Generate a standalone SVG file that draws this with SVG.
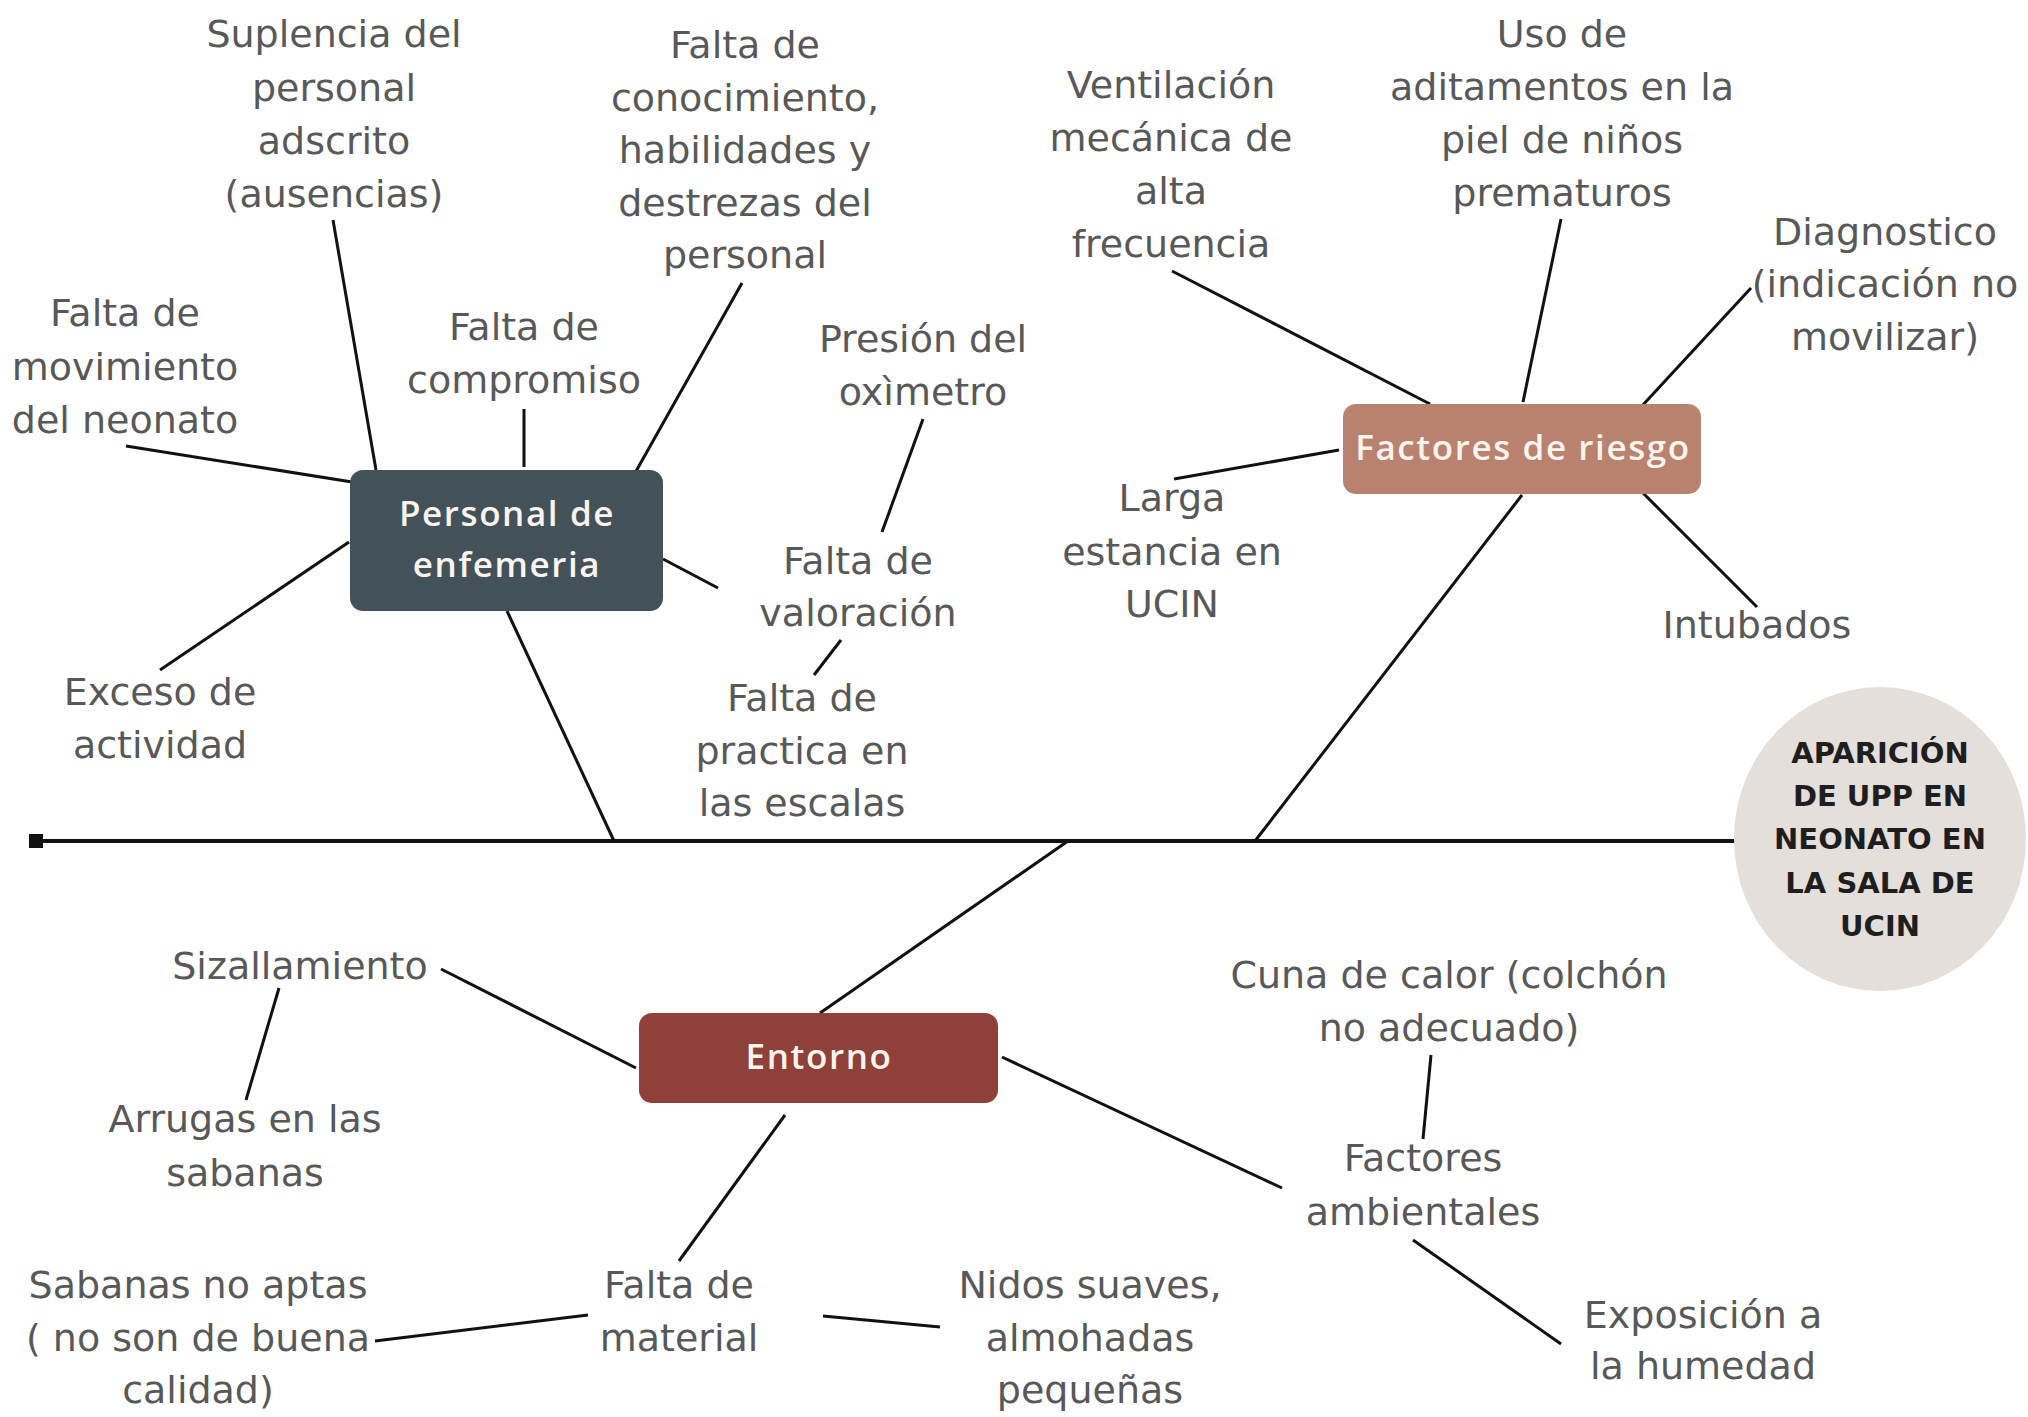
<svg xmlns="http://www.w3.org/2000/svg" width="2028" height="1417" viewBox="0 0 2028 1417">
<style>
.lbl{font-family:"DejaVu Sans","Liberation Sans",sans-serif;font-size:38px;fill:#585858;text-anchor:middle}
.box{font-family:"Open Sans","Liberation Sans",sans-serif;font-size:35px;font-weight:600;fill:#fbf3ee;text-anchor:middle;letter-spacing:1.6px}
.ctr{font-family:"DejaVu Sans","Liberation Sans",sans-serif;font-size:29px;font-weight:bold;fill:#1e1e1e;text-anchor:middle}
.ln{stroke:#111;stroke-width:3;fill:none;stroke-linecap:butt}
</style>
<rect width="2028" height="1417" fill="#ffffff"/>
<g id="connectors">
<line x1="36" y1="841" x2="1736" y2="841" stroke="#111" stroke-width="4"/>
<rect x="29" y="834" width="14" height="14" fill="#111"/>
<line class="ln" x1="507" y1="611" x2="614" y2="841"/>
<line class="ln" x1="663" y1="559" x2="718" y2="588"/>
<line class="ln" x1="524" y1="409" x2="524" y2="467"/>
<line class="ln" x1="333" y1="220" x2="376" y2="470"/>
<line class="ln" x1="742" y1="283" x2="635" y2="473"/>
<line class="ln" x1="126" y1="446" x2="352" y2="482"/>
<line class="ln" x1="349" y1="542" x2="160" y2="670"/>
<line class="ln" x1="923" y1="419" x2="882" y2="532"/>
<line class="ln" x1="841" y1="640" x2="814" y2="675"/>
<line class="ln" x1="1522" y1="495" x2="1255" y2="841"/>
<line class="ln" x1="1639" y1="489" x2="1757" y2="607"/>
<line class="ln" x1="1641" y1="407" x2="1751" y2="288"/>
<line class="ln" x1="1561" y1="219" x2="1523" y2="402"/>
<line class="ln" x1="1172" y1="271" x2="1430" y2="404"/>
<line class="ln" x1="1339" y1="450" x2="1174" y2="479"/>
<line class="ln" x1="820" y1="1013" x2="1068" y2="841"/>
<line class="ln" x1="785" y1="1115" x2="679" y2="1261"/>
<line class="ln" x1="441" y1="969" x2="636" y2="1068"/>
<line class="ln" x1="1002" y1="1057" x2="1282" y2="1188"/>
<line class="ln" x1="279" y1="988" x2="246" y2="1100"/>
<line class="ln" x1="588" y1="1315" x2="375" y2="1341"/>
<line class="ln" x1="823" y1="1316" x2="940" y2="1327"/>
<line class="ln" x1="1431" y1="1055" x2="1423" y2="1139"/>
<line class="ln" x1="1413" y1="1240" x2="1561" y2="1344"/>
</g>
<g id="node-personal">
<rect x="350" y="470" width="313" height="141" rx="13" fill="#435259"/>
<text class="box" x="507" y="526">Personal de</text>
<text class="box" x="507" y="577">enfemeria</text>
</g>
<g id="node-factores">
<rect x="1343" y="404" width="358" height="90" rx="13" fill="#b8826e"/>
<text class="box" x="1523" y="460">Factores de riesgo</text>
</g>
<g id="node-entorno">
<rect x="639" y="1013" width="359" height="90" rx="13" fill="#8f4038"/>
<text class="box" x="819" y="1069">Entorno</text>
</g>
<g id="node-aparicion">
<ellipse cx="1880" cy="839" rx="146" ry="152" fill="#e4dfda"/>
<text class="ctr" x="1880" y="763">APARICIÓN</text>
<text class="ctr" x="1880" y="806">DE UPP EN</text>
<text class="ctr" x="1880" y="849">NEONATO EN</text>
<text class="ctr" x="1880" y="893">LA SALA DE</text>
<text class="ctr" x="1880" y="936">UCIN</text>
</g>
<g id="label-suplencia">
<text class="lbl" x="334" y="47">Suplencia del</text>
<text class="lbl" x="334" y="101">personal</text>
<text class="lbl" x="334" y="154">adscrito</text>
<text class="lbl" x="334" y="207">(ausencias)</text>
</g>
<g id="label-conocimiento">
<text class="lbl" x="745" y="58">Falta de</text>
<text class="lbl" x="745" y="111">conocimiento,</text>
<text class="lbl" x="745" y="163">habilidades y</text>
<text class="lbl" x="745" y="216">destrezas del</text>
<text class="lbl" x="745" y="268">personal</text>
</g>
<g id="label-movimiento">
<text class="lbl" x="125" y="326">Falta de</text>
<text class="lbl" x="125" y="380">movimiento</text>
<text class="lbl" x="125" y="433">del neonato</text>
</g>
<g id="label-compromiso">
<text class="lbl" x="524" y="340">Falta de</text>
<text class="lbl" x="524" y="393">compromiso</text>
</g>
<g id="label-oximetro">
<text class="lbl" x="923" y="352">Presión del</text>
<text class="lbl" x="923" y="405">oxìmetro</text>
</g>
<g id="label-valoracion">
<text class="lbl" x="858" y="574">Falta de</text>
<text class="lbl" x="858" y="626">valoración</text>
</g>
<g id="label-practica">
<text class="lbl" x="802" y="711">Falta de</text>
<text class="lbl" x="802" y="764">practica en</text>
<text class="lbl" x="802" y="816">las escalas</text>
</g>
<g id="label-exceso">
<text class="lbl" x="160" y="705">Exceso de</text>
<text class="lbl" x="160" y="758">actividad</text>
</g>
<g id="label-ventilacion">
<text class="lbl" x="1171" y="98">Ventilación</text>
<text class="lbl" x="1171" y="151">mecánica de</text>
<text class="lbl" x="1171" y="204">alta</text>
<text class="lbl" x="1171" y="257">frecuencia</text>
</g>
<g id="label-aditamentos">
<text class="lbl" x="1562" y="47">Uso de</text>
<text class="lbl" x="1562" y="100">aditamentos en la</text>
<text class="lbl" x="1562" y="153">piel de niños</text>
<text class="lbl" x="1562" y="206">prematuros</text>
</g>
<g id="label-diagnostico">
<text class="lbl" x="1885" y="245">Diagnostico</text>
<text class="lbl" x="1885" y="297">(indicación no</text>
<text class="lbl" x="1885" y="350">movilizar)</text>
</g>
<g id="label-larga">
<text class="lbl" x="1172" y="511">Larga</text>
<text class="lbl" x="1172" y="565">estancia en</text>
<text class="lbl" x="1172" y="617">UCIN</text>
</g>
<g id="label-intubados">
<text class="lbl" x="1757" y="638">Intubados</text>
</g>
<g id="label-sizallamiento">
<text class="lbl" x="300" y="979">Sizallamiento</text>
</g>
<g id="label-arrugas">
<text class="lbl" x="245" y="1132">Arrugas en las</text>
<text class="lbl" x="245" y="1186">sabanas</text>
</g>
<g id="label-sabanas">
<text class="lbl" x="198" y="1298">Sabanas no aptas</text>
<text class="lbl" x="198" y="1351">( no son de buena</text>
<text class="lbl" x="198" y="1403">calidad)</text>
</g>
<g id="label-material">
<text class="lbl" x="679" y="1298">Falta de</text>
<text class="lbl" x="679" y="1351">material</text>
</g>
<g id="label-nidos">
<text class="lbl" x="1090" y="1298">Nidos suaves,</text>
<text class="lbl" x="1090" y="1351">almohadas</text>
<text class="lbl" x="1090" y="1403">pequeñas</text>
</g>
<g id="label-cuna">
<text class="lbl" x="1449" y="988">Cuna de calor (colchón</text>
<text class="lbl" x="1449" y="1041">no adecuado)</text>
</g>
<g id="label-ambientales">
<text class="lbl" x="1423" y="1171">Factores</text>
<text class="lbl" x="1423" y="1225">ambientales</text>
</g>
<g id="label-exposicion">
<text class="lbl" x="1703" y="1328">Exposición a</text>
<text class="lbl" x="1703" y="1379">la humedad</text>
</g>
</svg>
